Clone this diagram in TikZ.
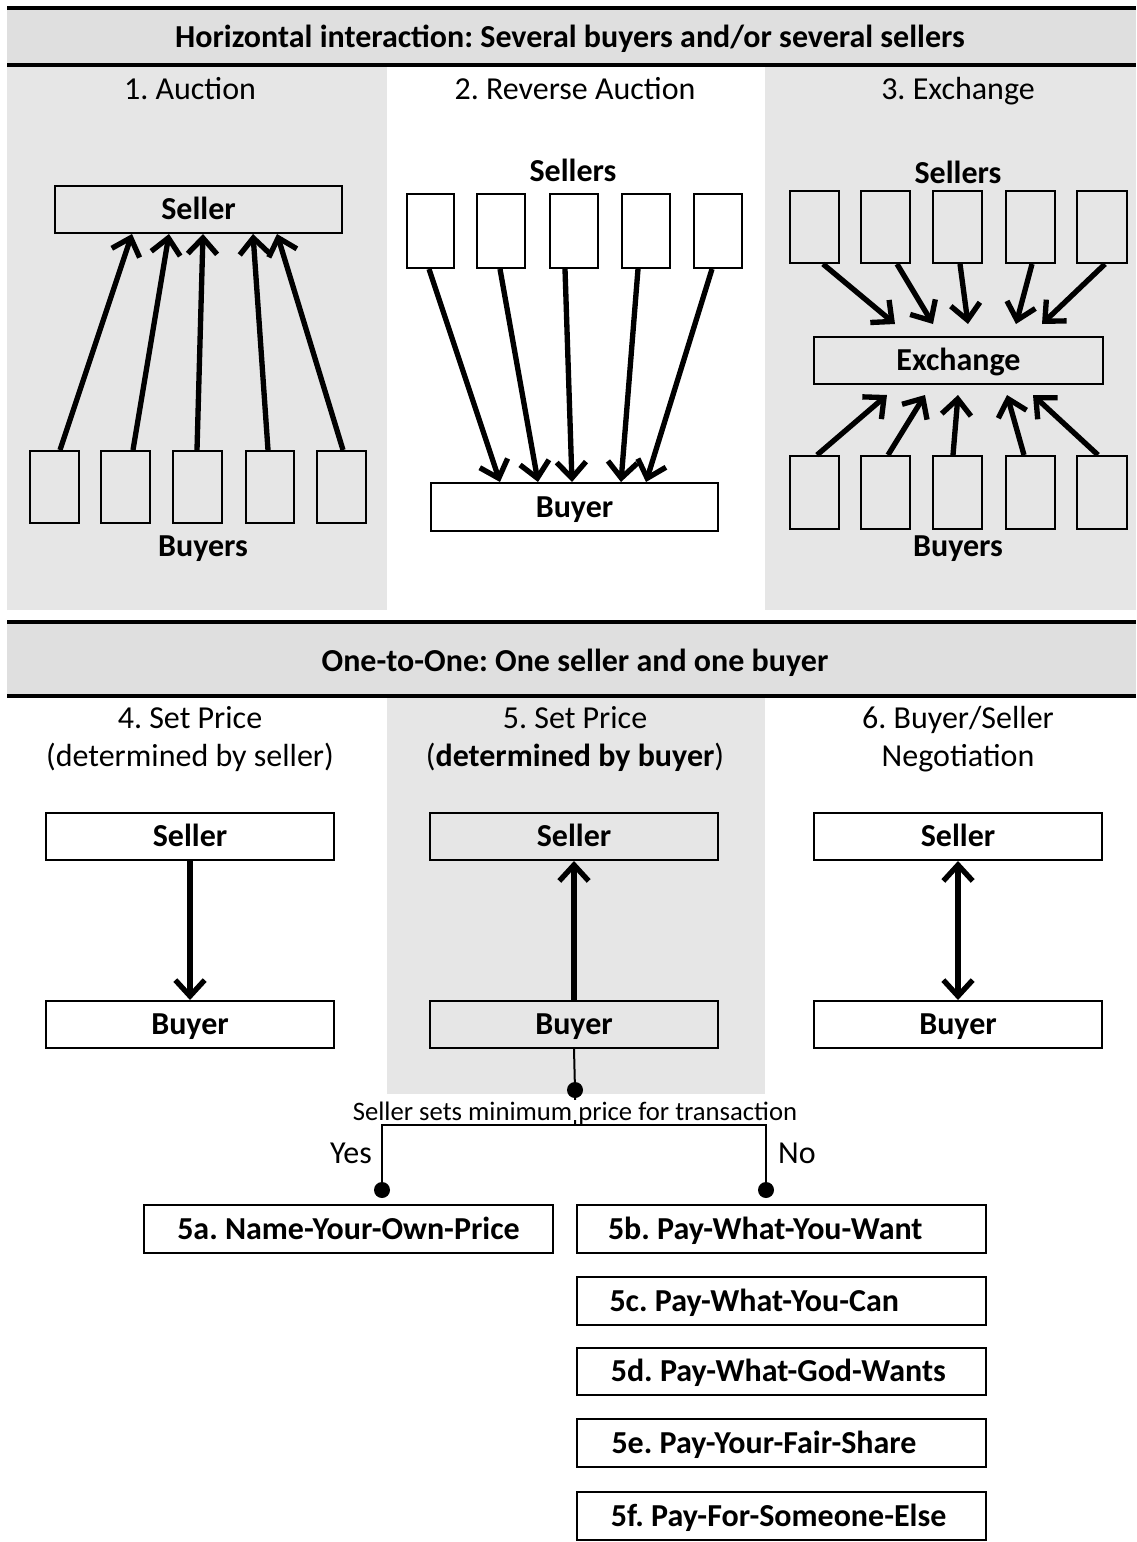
\documentclass[tikz,border=0pt]{standalone}
\usepackage{fontspec}
\setmainfont{Carlito}
\frenchspacing
\usetikzlibrary{arrows.meta,calc}
\newcommand\mainsz{\fontsize{24}{29}\selectfont}
\newcommand\smallsz{\fontsize{20}{24}\selectfont}
\newcommand\mkbox[6]{\node[box, minimum width={(#4-#2)*0.75pt}, minimum height={(#5-#3)*0.75pt}] (#1) at ({(#2+#4)/2},{(#3+#5)/2}) {#6};}
\newcommand\mkrect[5]{\node[ebox, minimum width={(#4-#2)*0.75pt}, minimum height={(#5-#3)*0.75pt}] (#1) at ({(#2+#4)/2},{(#3+#5)/2}) {};}
\definecolor{hdrgray}{HTML}{DFDFDF}
\definecolor{pangray}{HTML}{E6E6E6}
\begin{document}
\frenchspacing
\begin{tikzpicture}[x=0.75pt,y=-0.75pt,
  lbl/.style={inner sep=0, text height=18pt, text depth=2.54pt, font=\mainsz},
  box/.style={lbl, draw, line width=1.5pt, font=\mainsz\bfseries},
  ebox/.style={draw, line width=1.5pt, inner sep=0},
  tipx/.tip={Straight Barb[length=12pt,width=22pt]},
  arr/.style={line width=4pt, -tipx},
  hline/.style={line width=2.4pt},
  tline/.style={line width=1.5pt},
  dot/.style={circle, fill=black, inner sep=0, minimum size=12pt}]
\useasboundingbox (0,0) rectangle (1136,1542);
% panels
\fill[pangray] (7,65) rectangle (387,610);
\fill[pangray] (765,65) rectangle (1136,610);
\fill[pangray] (387,696) rectangle (765,1094);
% headers
\fill[hdrgray] (7,8) rectangle (1136,65);
\draw[hline] (7,8) -- (1136,8);
\draw[hline] (7,65) -- (1136,65);
\fill[hdrgray] (7,622) rectangle (1136,696);
\draw[hline] (7,622) -- (1136,622);
\draw[hline] (7,696) -- (1136,696);
\node[lbl, font=\mainsz\bfseries] (h1) at (570,37) {Horizontal interaction: Several buyers and/or several sellers};
\node[lbl, font=\mainsz\bfseries] (h2) at (575,661) {One-to-One: One seller and one buyer};
% titles
\node[lbl] (t1) at (190,89) {1. Auction};
\node[lbl] (t2) at (575,89) {2. Reverse Auction};
\node[lbl] (t3) at (958,89) {3. Exchange};
% panel 1
\mkbox{s1}{55}{186}{342}{233}{Seller}
\mkrect{b11}{30}{451}{79}{523}
\mkrect{b12}{101}{451}{150}{523}
\mkrect{b13}{173}{451}{222}{523}
\mkrect{b14}{246}{451}{294}{523}
\mkrect{b15}{317}{451}{366}{523}
\node[lbl, font=\mainsz\bfseries] (bl1) at (203,546) {Buyers};
\draw[arr] (b11.north -| 60,0) -- (s1.south -| 132,0);
\draw[arr] (b12.north -| 133,0) -- (s1.south -| 169,0);
\draw[arr] (b13.north -| 197,0) -- (s1.south -| 203,0);
\draw[arr] (b14.north -| 268,0) -- (s1.south -| 253,0);
\draw[arr] (b15.north -| 343,0) -- (s1.south -| 277,0);
% panel 2
\node[lbl, font=\mainsz\bfseries] (sl2) at (573,171) {Sellers};
\mkrect{s21}{407}{194}{454}{268}
\mkrect{s22}{477}{194}{525}{268}
\mkrect{s23}{550}{194}{598}{268}
\mkrect{s24}{622}{194}{670}{268}
\mkrect{s25}{694}{194}{742}{268}
\mkbox{b2}{431}{483}{718}{531}{Buyer}
\draw[arr] (s21.south -| 429,0) -- (b2.north -| 500,0);
\draw[arr] (s22.south -| 500,0) -- (b2.north -| 538,0);
\draw[arr] (s23.south -| 565,0) -- (b2.north -| 572,0);
\draw[arr] (s24.south -| 638,0) -- (b2.north -| 621,0);
\draw[arr] (s25.south -| 712,0) -- (b2.north -| 646,0);
% panel 3
\node[lbl, font=\mainsz\bfseries] (sl3) at (958,173) {Sellers};
\mkrect{s31}{790}{191}{839}{263}
\mkrect{s32}{861}{191}{910}{263}
\mkrect{s33}{933}{191}{982}{263}
\mkrect{s34}{1006}{191}{1055}{263}
\mkrect{s35}{1077}{191}{1127}{263}
\mkbox{ex}{814}{337}{1103}{384}{Exchange}
\mkrect{b31}{790}{456}{839}{529}
\mkrect{b32}{861}{456}{910}{529}
\mkrect{b33}{933}{456}{982}{529}
\mkrect{b34}{1006}{456}{1055}{529}
\mkrect{b35}{1077}{456}{1127}{529}
\node[lbl, font=\mainsz\bfseries] (bl3) at (958,546) {Buyers};
\coordinate (u1) at (895,324);
\coordinate (u2) at (933,324);
\coordinate (u3) at (968,324);
\coordinate (u4) at (1016,324);
\coordinate (u5) at (1042,324);
\draw[arr] (s31.south -| 823,0) -- (u1);
\draw[arr] (s32.south -| 897,0) -- (u2);
\draw[arr] (s33.south -| 960,0) -- (u3);
\draw[arr] (s34.south -| 1032,0) -- (u4);
\draw[arr] (s35.south -| 1105,0) -- (u5);
\coordinate (v1) at (887,395);
\coordinate (v2) at (925,395);
\coordinate (v3) at (958,395);
\coordinate (v4) at (1007,395);
\coordinate (v5) at (1033,395);
\draw[arr] (b31.north -| 817,0) -- (v1);
\draw[arr] (b32.north -| 888,0) -- (v2);
\draw[arr] (b33.north -| 953,0) -- (v3);
\draw[arr] (b34.north -| 1024,0) -- (v4);
\draw[arr] (b35.north -| 1098,0) -- (v5);
% lower titles
\node[lbl] (t4a) at (190,718) {4. Set Price};
\node[lbl] (t4b) at (190,756) {(determined by seller)};
\node[lbl] (t5a) at (575,718) {5. Set Price};
\node[lbl] (t5b) at (575,756) {(\textbf{determined by buyer})};
\node[lbl] (t6a) at (958,718) {6. Buyer/Seller};
\node[lbl] (t6b) at (958,756) {Negotiation};
% panel 4,5,6
\mkbox{s4}{46}{813}{334}{860}{Seller}
\mkbox{b4}{46}{1001}{334}{1048}{Buyer}
\mkbox{s5}{430}{813}{718}{860}{Seller}
\mkbox{b5}{430}{1001}{718}{1048}{Buyer}
\mkbox{s6}{814}{813}{1102}{860}{Seller}
\mkbox{b6}{814}{1001}{1102}{1048}{Buyer}
\draw[arr] (s4.south) -- (b4.north);
\draw[arr] (b5.north) -- (s5.south);
\draw[arr, tipx-tipx] (s6.south) -- (b6.north);
% tree
\coordinate (j) at (575,1125);
\coordinate (jl) at (382,1125);
\coordinate (jr) at (766,1125);
\node[dot] (d0) at (575,1090) {};
\node[dot] (dl) at (382,1190) {};
\node[dot] (dr) at (766,1190) {};
\draw[tline] (b5.south) -- (d0.center) -- (j);
\draw[tline] (dl.center) -- (jl) -- (jr) -- (dr.center);
\node[inner sep=0, font=\smallsz, fill=white, text depth=0pt, text height=15.5pt] (q) at (575,1110) {Seller sets minimum price for transaction};
\node[lbl] (yes) at (351,1153) {Yes};
\node[lbl] (no) at (797,1153) {No};
\mkbox{p5a}{144}{1205}{553}{1253}{5a. Name-Your-Own-Price}
\mkbox{p5b}{577}{1205}{986}{1253}{\makebox[260.25pt][l]{5b. Pay-What-You-Want}}
\mkbox{p5c}{577}{1277}{986}{1325}{\makebox[258pt][l]{5c. Pay-What-You-Can}}
\mkbox{p5d}{577}{1348}{986}{1395}{\makebox[256pt][l]{5d. Pay-What-God-Wants}}
\mkbox{p5e}{577}{1419}{986}{1467}{\makebox[255pt][l]{5e. Pay-Your-Fair-Share}}
\mkbox{p5f}{577}{1492}{986}{1540}{\makebox[256pt][l]{5f. Pay-For-Someone-Else}}
\end{tikzpicture}
\end{document}
